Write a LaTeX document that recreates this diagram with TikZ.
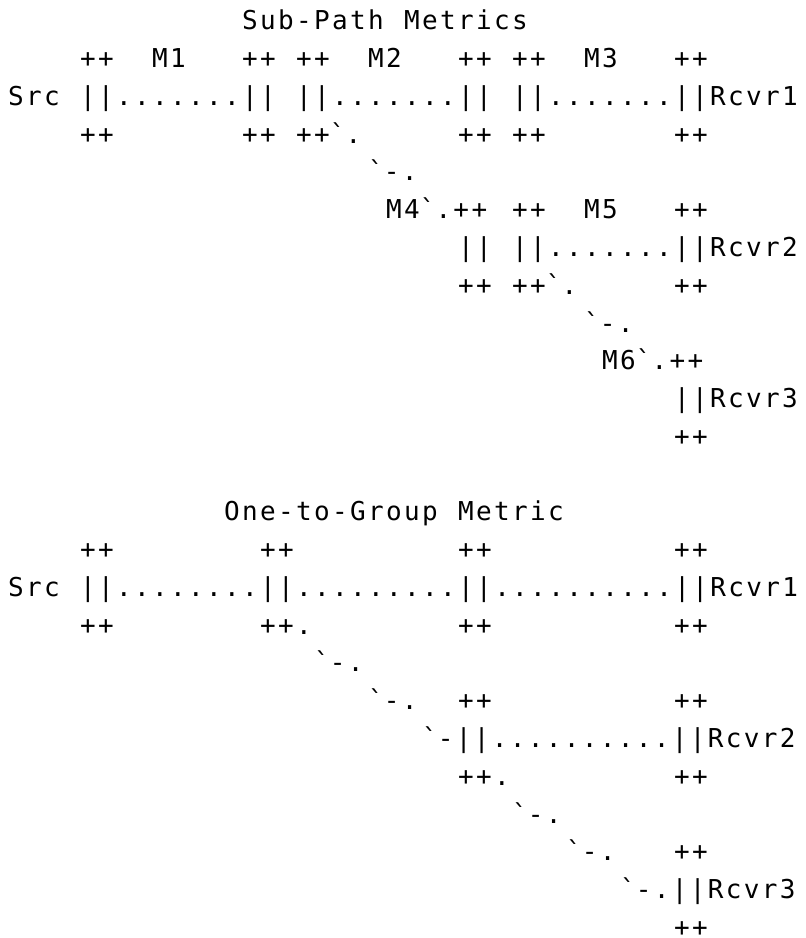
\documentclass[tikz,border=0pt]{standalone}
\usepackage{fontspec}
\newfontfamily\asciifont{DejaVu Sans Mono}[LetterSpace=9.04]
\newcommand\gr{\textasciigrave}
\tikzset{run/.style={anchor=base west,inner sep=0pt,outer sep=0pt,text=black,
  font=\asciifont\fontsize{26}{36}\selectfont}}
\newcommand\putrun[4]{\node[run] (#1) at (#2+0.456,#3+0.79) {#4};}
\begin{document}
\begin{tikzpicture}[x=18pt,y=-37.77pt]
\path[use as bounding box,fill=white] (0pt,0pt) rectangle (806pt,-938pt);
% ---------- Sub-Path Metrics ----------
\putrun{ttlA}{13}{0}{Sub-Path}
\putrun{ttlB}{22}{0}{Metrics}
\putrun{a1}{4}{1}{++}
\putrun{m1}{8}{1}{M1}
\putrun{a2}{13}{1}{++}
\putrun{a3}{16}{1}{++}
\putrun{m2}{20}{1}{M2}
\putrun{a4}{25}{1}{++}
\putrun{a5}{28}{1}{++}
\putrun{m3}{32}{1}{M3}
\putrun{a6}{37}{1}{++}
\putrun{src1}{0}{2}{Src}
\putrun{p1}{4}{2}{||.......||}
\putrun{p2}{16}{2}{||.......||}
\putrun{p3}{28}{2}{||.......||Rcvr1}
\putrun{b1}{4}{3}{++}
\putrun{b2}{13}{3}{++}
\putrun{b3}{16}{3}{++\gr.}
\putrun{b4}{25}{3}{++}
\putrun{b5}{28}{3}{++}
\putrun{b6}{37}{3}{++}
\putrun{d1}{20}{4}{\gr-.}
\putrun{m4}{21}{5}{M4\gr.++}
\putrun{c2}{28}{5}{++}
\putrun{m5}{32}{5}{M5}
\putrun{c3}{37}{5}{++}
\putrun{q1}{25}{6}{||}
\putrun{q2}{28}{6}{||.......||Rcvr2}
\putrun{e1}{25}{7}{++}
\putrun{e2}{28}{7}{++\gr.}
\putrun{e3}{37}{7}{++}
\putrun{d2}{32}{8}{\gr-.}
\putrun{m6}{33}{9}{M6\gr.++}
\putrun{r3}{37}{10}{||Rcvr3}
\putrun{f1}{37}{11}{++}
% ---------- One-to-Group Metric ----------
\putrun{ttlC}{12}{13}{One-to-Group}
\putrun{ttlD}{25}{13}{Metric}
\putrun{g1}{4}{14}{++}
\putrun{g2}{14}{14}{++}
\putrun{g3}{25}{14}{++}
\putrun{g4}{37}{14}{++}
\putrun{src2}{0}{15}{Src}
\putrun{t1}{4}{15}{||........||.........||..........||Rcvr1}
\putrun{h1}{4}{16}{++}
\putrun{h2}{14}{16}{++.}
\putrun{h3}{25}{16}{++}
\putrun{h4}{37}{16}{++}
\putrun{k1}{17}{17}{\gr-.}
\putrun{k2}{20}{18}{\gr-.}
\putrun{k3}{25}{18}{++}
\putrun{k4}{37}{18}{++}
\putrun{t2}{23}{19}{\gr-||..........||Rcvr2}
\putrun{n1}{25}{20}{++.}
\putrun{n2}{37}{20}{++}
\putrun{k5}{28}{21}{\gr-.}
\putrun{k6}{31}{22}{\gr-.}
\putrun{n3}{37}{22}{++}
\putrun{t3}{34}{23}{\gr-.||Rcvr3}
\putrun{n4}{37}{24}{++}
\end{tikzpicture}
\end{document}
